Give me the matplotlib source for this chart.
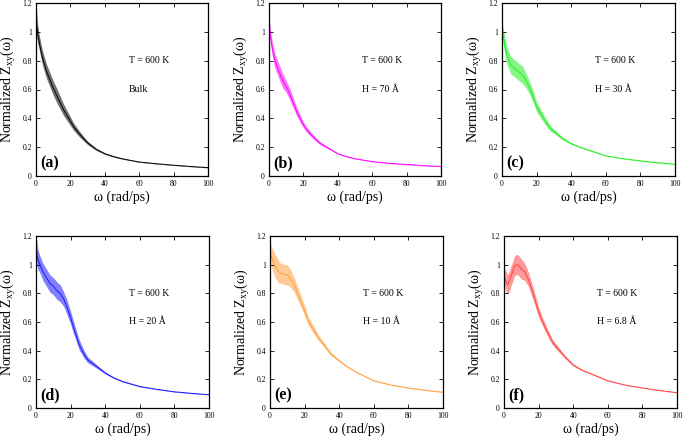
import matplotlib

matplotlib.use("Agg")
import matplotlib.pyplot as plt
from matplotlib.ticker import FormatStrFormatter, MultipleLocator

plt.rcParams["font.family"] = ["Liberation Serif", "DejaVu Serif"]
plt.rcParams["mathtext.fontset"] = "custom"
plt.rcParams["mathtext.rm"] = "Liberation Serif"
plt.rcParams["mathtext.it"] = "Liberation Serif:italic"

# frequency grid (rad/ps) at which the curves were read
OMEGA = [0, 1, 2, 3, 4, 5, 6, 7, 8, 10, 12, 14, 16, 18, 20, 22, 25, 28,
         30, 35, 40, 45, 50, 60, 70, 80, 90, 100]

# centre of the noisy band for each panel
Z_BULK = [1.10, 0.98, 0.92, 0.86, 0.81, 0.77, 0.73, 0.70, 0.67, 0.61, 0.56, 0.51, 0.46,
          0.42, 0.38, 0.34, 0.295, 0.255, 0.23, 0.185, 0.155, 0.135, 0.12, 0.097,
          0.085, 0.075, 0.066, 0.058]
Z_H70 = [1.05, 0.95, 0.88, 0.82, 0.78, 0.75, 0.72, 0.69, 0.66, 0.62, 0.57, 0.51, 0.45,
         0.40, 0.355, 0.32, 0.28, 0.245, 0.225, 0.19, 0.155, 0.135, 0.12, 0.10,
         0.088, 0.08, 0.072, 0.066]
Z_H30 = [1.03, 0.95, 0.88, 0.83, 0.80, 0.77, 0.76, 0.75, 0.74, 0.72, 0.70, 0.66, 0.61,
         0.55, 0.48, 0.44, 0.38, 0.33, 0.31, 0.26, 0.225, 0.20, 0.18, 0.14,
         0.12, 0.105, 0.092, 0.081]
Z_H20 = [1.12, 1.04, 1.01, 0.98, 0.95, 0.93, 0.91, 0.89, 0.87, 0.85, 0.82, 0.80, 0.76,
         0.70, 0.63, 0.55, 0.44, 0.37, 0.335, 0.29, 0.245, 0.21, 0.185, 0.15,
         0.13, 0.113, 0.102, 0.093]
Z_H10 = [1.10, 1.05, 1.02, 0.99, 0.97, 0.95, 0.94, 0.94, 0.93, 0.93, 0.90, 0.86, 0.80,
         0.74, 0.68, 0.61, 0.55, 0.49, 0.46, 0.38, 0.33, 0.285, 0.25, 0.19,
         0.16, 0.14, 0.123, 0.11]
Z_H68 = [0.92, 0.89, 0.86, 0.88, 0.92, 0.95, 0.99, 1.00, 1.00, 0.97, 0.95, 0.90, 0.83,
         0.75, 0.67, 0.61, 0.53, 0.46, 0.43, 0.36, 0.30, 0.265, 0.24, 0.19,
         0.16, 0.14, 0.122, 0.107]

# half-width of the noise band
S_BULK = [0.10, 0.06, 0.05, 0.05, 0.05, 0.05, 0.05, 0.05, 0.05, 0.05, 0.05, 0.045, 0.04,
          0.035, 0.03, 0.025, 0.02, 0.015, 0.012, 0.008, 0.005, 0.004, 0.003, 0.002,
          0.002, 0.002, 0.002, 0.002]
S_H70 = [0.06, 0.05, 0.05, 0.05, 0.05, 0.05, 0.05, 0.05, 0.05, 0.04, 0.04, 0.035, 0.03,
         0.025, 0.02, 0.018, 0.015, 0.012, 0.01, 0.006, 0.004, 0.003, 0.002, 0.002,
         0.002, 0.002, 0.002, 0.002]
S_H30 = [0.05, 0.06, 0.06, 0.06, 0.06, 0.06, 0.06, 0.06, 0.06, 0.06, 0.06, 0.05, 0.045,
         0.04, 0.035, 0.03, 0.025, 0.02, 0.015, 0.01, 0.006, 0.004, 0.003, 0.002,
         0.002, 0.002, 0.002, 0.002]
S_H20 = [0.10, 0.07, 0.06, 0.06, 0.06, 0.06, 0.06, 0.06, 0.06, 0.06, 0.06, 0.06, 0.05,
         0.05, 0.045, 0.04, 0.035, 0.025, 0.02, 0.012, 0.007, 0.005, 0.004, 0.003,
         0.002, 0.002, 0.002, 0.002]
S_H10 = [0.05, 0.07, 0.08, 0.08, 0.08, 0.08, 0.07, 0.07, 0.07, 0.07, 0.06, 0.05, 0.045,
         0.04, 0.035, 0.03, 0.025, 0.02, 0.018, 0.012, 0.008, 0.005, 0.004, 0.003,
         0.002, 0.002, 0.002, 0.002]
S_H68 = [0.05, 0.07, 0.07, 0.07, 0.07, 0.07, 0.07, 0.07, 0.07, 0.07, 0.06, 0.05, 0.045,
         0.04, 0.035, 0.03, 0.025, 0.02, 0.018, 0.012, 0.008, 0.005, 0.004, 0.003,
         0.002, 0.002, 0.002, 0.002]

PANELS = [
    ("(a)", "Bulk", Z_BULK, S_BULK, "#000000"),
    ("(b)", "H = 70 Å", Z_H70, S_H70, "#ff00ff"),
    ("(c)", "H = 30 Å", Z_H30, S_H30, "#22ee22"),
    ("(d)", "H = 20 Å", Z_H20, S_H20, "#1a1aff"),
    ("(e)", "H = 10 Å", Z_H10, S_H10, "#ffa040"),
    ("(f)", "H = 6.8 Å", Z_H68, S_H68, "#ff4545"),
]

# axes boxes in pixels: left, top, right, bottom
BOXES = [
    (36, 3, 208, 176), (269, 3, 441, 176), (502, 3, 675, 176),
    (36, 236, 209, 408), (270, 236, 443, 408), (504, 236, 677, 408),
]

W, H = 685, 437
fig = plt.figure(figsize=(W / 100, H / 100), dpi=100)

for (tag, label, mid, spread, color), (x0, y0, x1, y1) in zip(PANELS, BOXES):
    ax = fig.add_axes([x0 / W, 1 - y1 / H, (x1 - x0) / W, (y1 - y0) / H])
    lower = [m - s for m, s in zip(mid, spread)]
    upper = [m + s for m, s in zip(mid, spread)]
    ax.fill_between(OMEGA, lower, upper, color=color, alpha=0.55, linewidth=0)
    ax.plot(OMEGA, mid, color=color, linewidth=0.7)

    ax.set_xlim(0, 100)
    ax.set_ylim(0, 1.2)
    ax.xaxis.set_major_locator(MultipleLocator(20))
    ax.yaxis.set_major_locator(MultipleLocator(0.2))
    ax.yaxis.set_major_formatter(FormatStrFormatter("%g"))
    ax.tick_params(direction="in", top=True, right=True, length=3, width=0.6,
                   labelsize=5.5, pad=3)
    for spine in ax.spines.values():
        spine.set_linewidth(0.9)

    ax.set_xlabel("ω (rad/ps)", fontsize=10)
    ax.set_ylabel("Normalized Z$_{\\rm xy}$(ω)", fontsize=10)
    ax.xaxis.set_label_coords(0.5, -0.085)
    ax.yaxis.set_label_coords(-0.105, 0.5)

    ax.text(54, 0.8, "T = 600 K", fontsize=7, va="center")
    ax.text(54, 0.6, label, fontsize=7, va="center")
    ax.text(2.5, 0.09, tag, fontsize=11.5, fontweight="bold", va="center")

fig.savefig("out.png", dpi=100)
plt.close(fig)
